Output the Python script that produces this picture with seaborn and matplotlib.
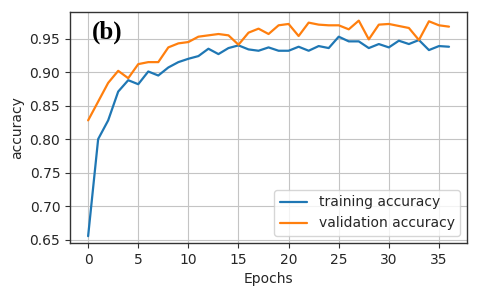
import pandas as pd
import matplotlib
matplotlib.use("Agg")
import matplotlib.pyplot as plt
import seaborn as sns

epochs = list(range(37))
train_acc = [0.655, 0.800, 0.828, 0.871, 0.888, 0.882, 0.901, 0.895, 0.907, 0.915,
             0.920, 0.924, 0.935, 0.927, 0.936, 0.940, 0.934, 0.932, 0.937, 0.932,
             0.932, 0.938, 0.932, 0.939, 0.936, 0.953, 0.946, 0.946, 0.936, 0.942,
             0.937, 0.947, 0.942, 0.948, 0.933, 0.939, 0.938]
val_acc = [0.828, 0.856, 0.884, 0.902, 0.891, 0.912, 0.915, 0.915, 0.937, 0.943,
           0.945, 0.953, 0.955, 0.957, 0.955, 0.941, 0.959, 0.965, 0.957, 0.970,
           0.972, 0.954, 0.974, 0.971, 0.970, 0.970, 0.964, 0.977, 0.949, 0.971,
           0.972, 0.969, 0.966, 0.948, 0.976, 0.970, 0.968]

df = pd.DataFrame({"epoch": epochs, "train": train_acc, "val": val_acc})

sns.set_style("whitegrid", {"axes.edgecolor": "#333333", "grid.color": "#c4c4c4",
                            "xtick.bottom": True, "ytick.left": True})
plt.rcParams["font.family"] = ["DejaVu Sans"]

fig = plt.figure(figsize=(4.8, 2.98), dpi=100)
ax = fig.add_axes([0.146, 0.185, 0.827, 0.775])

sns.lineplot(data=df, x="epoch", y="train", color="#1f77b4", linewidth=1.6,
             label="training accuracy", ax=ax)
sns.lineplot(data=df, x="epoch", y="val", color="#ff7f0e", linewidth=1.6,
             label="validation accuracy", ax=ax)

ax.set_xlim(-1.8, 37.8)
ax.set_ylim(0.645, 0.99)
ax.set_xticks([0, 5, 10, 15, 20, 25, 30, 35])
ax.set_yticks([0.65, 0.70, 0.75, 0.80, 0.85, 0.90, 0.95])
ax.set_yticklabels(["0.65", "0.70", "0.75", "0.80", "0.85", "0.90", "0.95"])
ax.tick_params(labelsize=10, length=3.5, width=0.8, color="#333333")
ax.set_xlabel("Epochs", fontsize=10)
ax.set_ylabel("accuracy", fontsize=10)
for s in ax.spines.values():
    s.set_linewidth(1.0)

ax.legend(loc="lower right", fontsize=10, frameon=True)

# panel label
ax.text(0.056, 0.91, "(b)", transform=ax.transAxes, fontsize=18, fontweight="bold",
        family="Liberation Serif", color="black", va="center", ha="left")

fig.savefig("out.png", dpi=100)
